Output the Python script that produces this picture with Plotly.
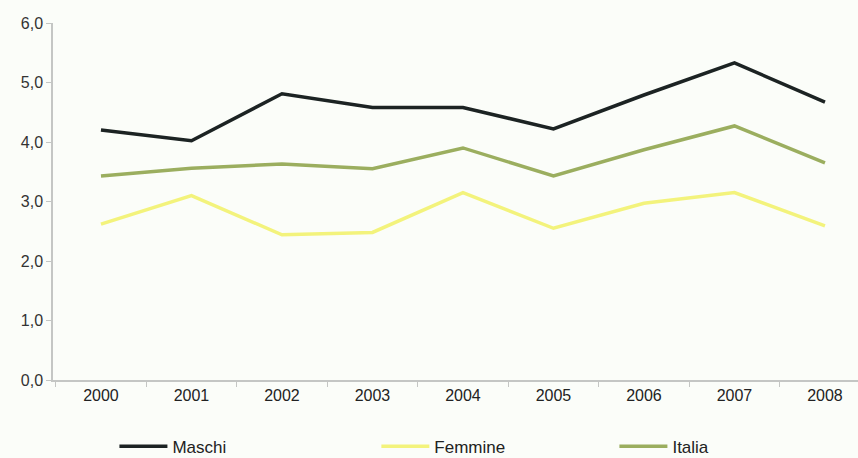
import plotly.graph_objects as go

years = ["2000", "2001", "2002", "2003", "2004", "2005", "2006", "2007", "2008"]
maschi = [4.20, 4.02, 4.81, 4.58, 4.58, 4.22, 4.79, 5.33, 4.67]
femmine = [2.62, 3.10, 2.44, 2.48, 3.15, 2.55, 2.97, 3.15, 2.59]
italia = [3.43, 3.56, 3.63, 3.55, 3.90, 3.43, 3.87, 4.27, 3.65]

series = [
    ("Maschi", maschi, "#1c2323", "legend", 0.0763),
    ("Femmine", femmine, "#f3f37c", "legend2", 0.4017),
    ("Italia", italia, "#9bae5f", "legend3", 0.6974),
]

bg = "#fbfdf9"
fig = go.Figure()
legends = {}
for name, vals, col, leg, lx in series:
    fig.add_trace(go.Scatter(x=years, y=vals, name=name, mode="lines", legend=leg,
                             line=dict(color=col, width=3.5)))
    legends[leg] = dict(orientation="h", x=lx, xanchor="left", y=-0.187, yanchor="middle",
                        font=dict(size=17, color="#222222"),
                        bgcolor="rgba(0,0,0,0)", itemwidth=48)

fig.update_layout(
    width=858, height=458,
    margin=dict(l=53, r=0, t=23, b=78, autoexpand=False),
    paper_bgcolor=bg, plot_bgcolor=bg,
    separators=",.",
    font=dict(family="Liberation Sans, Arial, sans-serif", color="#333333"),
    showlegend=True,
    **legends,
)
fig.update_xaxes(
    type="category", range=[-0.53, 8.365], automargin=False,
    showgrid=False, showline=True, linecolor="#c4c6c4", linewidth=1.5,
    ticks="outside", tickson="boundaries", ticklen=5, tickcolor="#c4c6c4",
    tickfont=dict(family="Liberation Sans Narrow, Arial Narrow, sans-serif", size=16, color="#222222"),
    fixedrange=True,
)
fig.update_yaxes(
    range=[0, 6], dtick=1, tickformat=".1f", automargin=False,
    showgrid=False, showline=True, linecolor="#c4c6c4", linewidth=1.5,
    ticks="outside", ticklen=5, tickcolor="#c4c6c4",
    tickfont=dict(size=16, color="#333333"),
    zeroline=False,
)

fig.write_html("out.html", config={"displayModeBar": False},
               post_script="document.body.style.margin='0';document.body.style.background='%s';" % bg)
